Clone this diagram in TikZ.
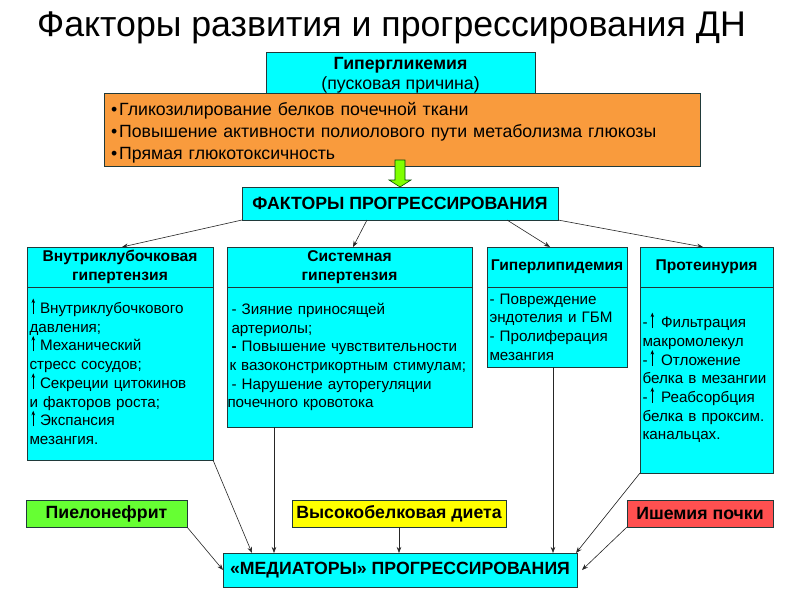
\documentclass[tikz,border=0pt]{standalone}
\usepackage{fontspec}
\setmainfont{Liberation Sans}
\usetikzlibrary{arrows.meta,calc}
\definecolor{cy}{HTML}{00FFFF}
\definecolor{org}{HTML}{F99B3D}
\definecolor{grn}{HTML}{66FF33}
\definecolor{yel}{HTML}{FFFF00}
\definecolor{rd}{HTML}{FF5050}
\definecolor{garrow}{HTML}{80FF00}
\definecolor{bord}{HTML}{203A3A}
\newcommand\fsz[2]{\fontsize{#1pt}{#2pt}\selectfont}
\newcommand\uparr{\smash{\tikz[baseline=0pt]\draw[line width=0.6pt,-{Stealth[length=4.5pt,width=3.5pt]}] (0pt,-0.5pt) -- (0pt,15pt);}}
\tikzset{
  box/.style={draw=bord, line width=0.8pt, inner sep=0pt, outer sep=0pt, fill=cy},
  hdr/.style={box, minimum height=40pt, align=center, font=\fsz{15.6}{19}\bfseries},
  body/.style={box, align=left, inner xsep=2.5pt, font=\fsz{15.2}{18.7}},
  lbl/.style={box, minimum height=27pt, font=\fsz{17.7}{20}\bfseries},
  con/.style={line width=0.6pt, draw=black!85, -{Stealth[length=6pt,width=4.5pt]}},
}
\begin{document}
\begin{tikzpicture}[x=1pt,y=-1pt]
\useasboundingbox[fill=white] (0,0) rectangle (800,600);
% title
\node (title) at (391.5,28) {\fsz{35.7}{40}Факторы развития и прогрессирования ДН};
% hyperglycemia
\node[box, minimum width=269pt, minimum height=42pt, align=center, font=\fsz{17.7}{20.5}] (hyp) at (400.5,73)
  {\rule{0pt}{17pt}\textbf{Гипергликемия}\\(пусковая причина)};
\node[box, fill=org, minimum width=596pt, minimum height=73pt, text width=582pt, align=left, inner xsep=7pt, font=\fsz{17.7}{22}] (mech) at (402,129.5)
  {\rule{0pt}{19pt}\textbullet\hspace{2pt}Гликозилирование белков почечной ткани\\
   \textbullet\hspace{2pt}Повышение активности полиолового пути метаболизма глюкозы\\
   \textbullet\hspace{2pt}Прямая глюкотоксичность};
% factors
\node[box, minimum width=316pt, minimum height=33pt, font=\fsz{17.7}{20}\bfseries] (fact) at (400,203.5) {ФАКТОРЫ ПРОГРЕССИРОВАНИЯ};
% green arrow
\draw[draw=black!70!green, line width=0.6pt, fill=garrow] (fact.north) -- ++(11,-7) -- ++(-6,0) -- ++(0,-20) -- ++(-10,0) -- ++(0,20) -- ++(-6,0) -- cycle;
% column headers
\node[hdr, minimum width=186pt] (h1) at (120,267) {Внутриклубочковая\\гипертензия};
\node[hdr, minimum width=245pt] (h2) at (349.5,267) {Системная\\гипертензия};
\node[hdr, minimum width=140pt] (h3) at (557,267) {Гиперлипидемия};
\node[hdr, minimum width=133pt] (h4) at (706.5,267) {Протеинурия};
% column bodies
\node[body, minimum width=186pt, minimum height=173pt, text width=181pt] (b1) at (120,373.5)
  {\hspace{2pt}\uparr\hspace{5pt}Внутриклубочкового\\
   давления;\\
   \hspace{2pt}\uparr\hspace{5pt}Механический\\
   стресс сосудов;\\
   \hspace{2pt}\uparr\hspace{5pt}Секреции цитокинов\\
   и факторов роста;\\
   \hspace{2pt}\uparr\hspace{5pt}Экспансия\\
   мезангия.};
\node[body, minimum width=245pt, minimum height=140pt, text width=240pt] (b2) at (349.5,357)
  {\hspace{2pt}- Зияние приносящей\\
   \hspace{2pt}артериолы;\\
   \hspace{2pt}\textbf{-} Повышение чувствительности\\
   к вазоконстрикортным стимулам;\\
   \hspace{2pt}- Нарушение ауторегуляции\\
   \hspace{-2pt}почечного кровотока};
\node[body, minimum width=140pt, minimum height=80pt, text width=135pt] (b3) at (557,327)
  {- Повреждение\\
   эндотелия и ГБМ\\
   - Пролиферация\\
   мезангия};
\node[body, minimum width=133pt, minimum height=186pt, text width=128pt] (b4) at (706.5,380)
  {-\hspace{3pt}\uparr\hspace{7pt}Фильтрация\\
   макромолекул\\
   -\hspace{3pt}\uparr\hspace{7pt}Отложение\\
   белка в мезангии\\
   -\hspace{3pt}\uparr\hspace{7pt}Реабсорбция\\
   белка в проксим.\\
   канальцах.};
% bottom labels
\node[lbl, fill=grn, minimum width=161pt] (pyel) at (106.5,513.5) {Пиелонефрит};
\node[lbl, fill=yel, minimum width=214pt] (diet) at (399,513.5) {Высокобелковая диета};
\node[lbl, fill=rd, minimum width=146pt] (isch) at (700,513.5) {Ишемия почки};
\node[box, minimum width=354pt, minimum height=34pt, font=\fsz{17.7}{20}\bfseries] (med) at (400,570) {«МЕДИАТОРЫ» ПРОГРЕССИРОВАНИЯ};
% connectors from factors
\draw[con] (fact.south west) -- ([xshift=2pt]h1.north);
\draw[con] ([xshift=125pt]fact.south west) -- ([xshift=3.5pt]h2.north);
\draw[con] ([xshift=-51pt]fact.south east) -- ([xshift=-7pt]h3.north);
\draw[con] (fact.south east) -- ([xshift=-3.5pt]h4.north);
% connectors to mediators
\draw[con] (b1.south east) -- ([xshift=29pt]med.north west);
\coordinate (c2) at ([xshift=47pt]b2.south west);
\draw[con] (c2) -- (c2 |- med.north);
\coordinate (c3) at ([xshift=-4pt]b3.south);
\draw[con] (c3) -- (c3 |- med.north);
\draw[con] (b4.south west) -- ([xshift=-1pt]med.north east);
\draw[con] (pyel.south east) -- (med.west);
\draw[con] (diet.south) -- (diet.south |- med.north);
\draw[con] (isch.south west) -- ([xshift=5pt]med.east);
\end{tikzpicture}
\end{document}
